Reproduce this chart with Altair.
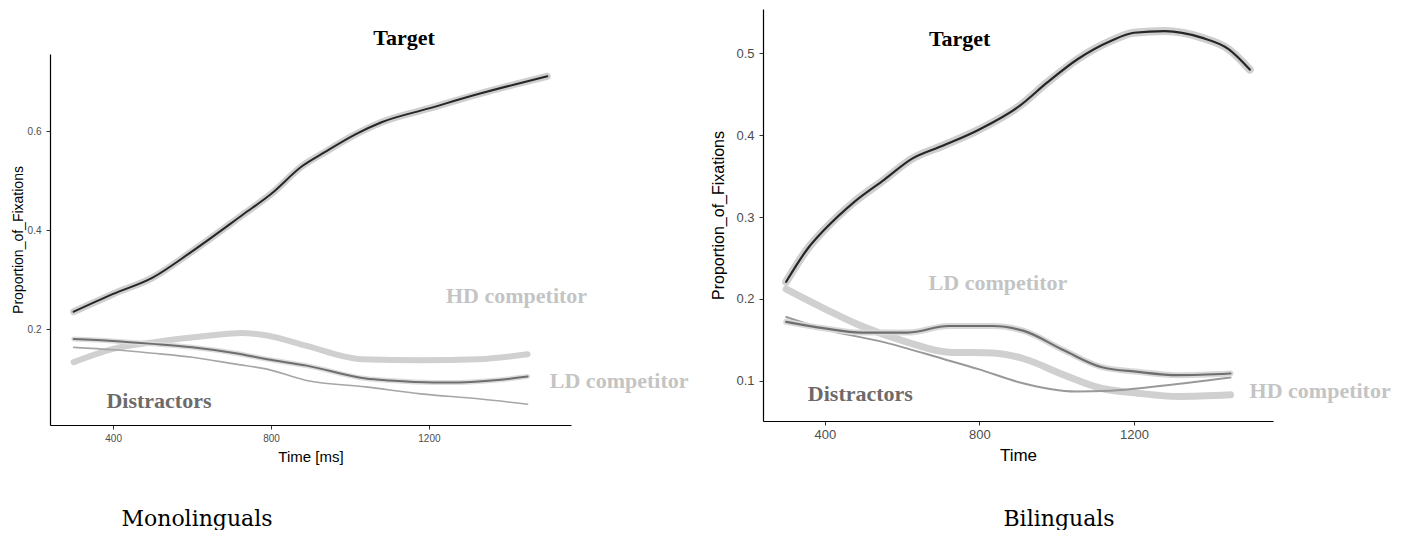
import altair as alt
import pandas as pd

# ---------------- Monolinguals (left panel) ----------------
mono_target_t = [300, 400, 500, 600, 730, 800, 880, 935, 1015, 1080, 1200, 1325, 1420, 1500]
mono_target_v = [0.235, 0.271, 0.304, 0.357, 0.432, 0.473, 0.530, 0.557, 0.594, 0.618, 0.646, 0.675, 0.695, 0.711]

mono_hd_t = [300, 400, 500, 645, 725, 790, 890, 1030, 1180, 1325, 1450]
mono_hd_v = [0.133, 0.160, 0.173, 0.187, 0.192, 0.187, 0.166, 0.139, 0.137, 0.139, 0.149]

mono_dis_t = [300, 400, 500, 600, 710, 790, 890, 1040, 1100, 1210, 1275, 1375, 1450]
mono_dis_v = [0.180, 0.176, 0.170, 0.163, 0.151, 0.139, 0.126, 0.100, 0.096, 0.092, 0.092, 0.097, 0.104]

mono_ld_t = [300, 400, 500, 600, 710, 790, 890, 1040, 1180, 1325, 1450]
mono_ld_v = [0.163, 0.158, 0.151, 0.143, 0.129, 0.119, 0.096, 0.083, 0.069, 0.059, 0.048]

mono_lab_text = ["Target", "HD competitor", "LD competitor", "Distractors"]
mono_lab_t = [1137, 1422, 1682, 516]
mono_lab_v = [0.788, 0.267, 0.095, 0.055]

# ---------------- Bilinguals (right panel) ----------------
bi_target_t = [300, 355, 400, 475, 555, 625, 705, 800, 905, 975, 1055, 1140, 1200, 1280, 1375, 1445, 1500]
bi_target_v = [0.221, 0.261, 0.285, 0.318, 0.346, 0.371, 0.387, 0.407, 0.436, 0.464, 0.493, 0.515, 0.525, 0.527, 0.519, 0.505, 0.480]

bi_dis_t = [300, 400, 495, 615, 720, 835, 915, 1020, 1115, 1210, 1315, 1450]
bi_dis_v = [0.172, 0.164, 0.159, 0.159, 0.167, 0.167, 0.161, 0.137, 0.117, 0.111, 0.107, 0.109]

bi_ld_t = [300, 400, 555, 705, 800, 905, 1050, 1140, 1255, 1450]
bi_ld_v = [0.178, 0.163, 0.147, 0.127, 0.114, 0.098, 0.087, 0.088, 0.093, 0.104]

bi_hd_t = [300, 400, 495, 615, 720, 835, 915, 1020, 1115, 1210, 1315, 1450]
bi_hd_v = [0.212, 0.188, 0.167, 0.147, 0.135, 0.134, 0.127, 0.107, 0.091, 0.085, 0.081, 0.083]

bi_lab_text = ["Target", "LD competitor", "Distractors", "HD competitor"]
bi_lab_t = [749, 848, 492, 1682]
bi_lab_v = [0.517, 0.2195, 0.084, 0.088]

lab_colors = {"Target": "#000000", "HD competitor": "#c4c4c4",
              "LD competitor": "#c4c4c4", "Distractors": "#6e6a6a"}

SANS = "Liberation Sans"
SERIF_B = "Liberation Serif"
CAP_FONT = "DejaVu Serif"


def long_df(series):
    rows = []
    for name, (ts, vs) in series.items():
        for t, v in zip(ts, vs):
            rows.append({"series": name, "time": t, "value": v})
    return pd.DataFrame(rows)


def make_panel(series, labels, ydom, yvals, xtitle, w, h, fs, caption, cap_xy, rule_spec, styles):
    df = long_df(series)
    lab_df = pd.DataFrame({"label": labels[0], "time": labels[1], "value": labels[2],
                           "col": [lab_colors[l] for l in labels[0]]})
    xs = alt.Scale(domain=[240, 1560], nice=False)
    ys = alt.Scale(domain=ydom, nice=False, zero=False)
    X = alt.X("time:Q", scale=xs, axis=alt.Axis(
        values=[400, 800, 1200], format="d", title=xtitle, grid=False, domainColor="#000000",
        domainWidth=1.2, tickColor="#333333", tickSize=4, labelColor="#4d4d4d",
        labelFont=SANS, labelFontSize=fs["xl"], labelPadding=fs["xlp"], titleFont=SANS,
        titleFontSize=fs["xt"], titleFontWeight="normal", titleColor="#000000",
        titlePadding=fs["xtp"]))
    Y = alt.Y("value:Q", scale=ys, axis=alt.Axis(
        values=yvals, format=".1f", title="Proportion_of_Fixations", grid=False,
        domainColor="#000000", domainWidth=1.2, tickColor="#333333", tickSize=4,
        labelColor="#4d4d4d", labelFont=SANS, labelFontSize=fs["yl"], labelPadding=fs["ylp"],
        titleFont=SANS, titleFontSize=fs["yt"], titleFontWeight="normal",
        titleColor="#000000", titlePadding=fs["ytp"]))

    base = alt.Chart(df)
    layers = []
    for name, color, width in styles:
        layers.append(base.transform_filter(alt.datum.series == name)
                      .mark_line(color=color, strokeWidth=width, interpolate="monotone",
                                 strokeCap="round")
                      .encode(x=X, y=Y))

    labels_layer = alt.Chart(lab_df).mark_text(
        font=SERIF_B, fontWeight="bold", fontSize=22, align="center", baseline="middle"
    ).encode(x=X, y=Y, text="label:N", color=alt.Color("col:N", scale=None))

    cap_layer = alt.Chart(pd.DataFrame({"c": [caption]})).mark_text(
        font=CAP_FONT, fontSize=22, align="center", baseline="middle", color="#000000"
    ).encode(text="c:N", x=alt.value(cap_xy[0]), y=alt.value(cap_xy[1]))

    rule_layer = alt.Chart(pd.DataFrame({"r": [0]})).mark_rule(
        color="#ffffff", strokeWidth=1
    ).encode(x=alt.value(rule_spec[0]), x2=alt.value(rule_spec[1]), y=alt.value(rule_spec[2]))

    return alt.layer(*layers, labels_layer, cap_layer, rule_layer).properties(width=w, height=h)


mono_series = {
    "HD": (mono_hd_t, mono_hd_v),
    "LD": (mono_ld_t, mono_ld_v),
    "DIS": (mono_dis_t, mono_dis_v),
    "TGT": (mono_target_t, mono_target_v),
}
bi_series = {
    "HD": (bi_hd_t, bi_hd_v),
    "LD": (bi_ld_t, bi_ld_v),
    "DIS": (bi_dis_t, bi_dis_v),
    "TGT": (bi_target_t, bi_target_v),
}

styles_mono = [("HD", "#d0d0d0", 6), ("LD", "#a6a6a6", 1.6),
               ("DIS", "#dcdcdc", 5), ("DIS", "#6e6e6e", 2),
               ("TGT", "#cfcfcf", 7), ("TGT", "#262626", 2)]
styles_bi = [("HD", "#d0d0d0", 7), ("LD", "#999999", 2),
             ("DIS", "#d8d8d8", 6), ("DIS", "#6e6e6e", 2.2),
             ("TGT", "#cfcfcf", 8), ("TGT", "#262626", 2.2)]

left = make_panel(
    mono_series, (mono_lab_text, mono_lab_t, mono_lab_v), [0.006, 0.756], [0.2, 0.4, 0.6],
    "Time [ms]", 521, 371,
    {"xl": 10, "xlp": 4, "xt": 15, "xtp": 6, "yl": 10, "ylp": 5, "yt": 14, "ytp": 2},
    "Monolinguals", (147, 465), (-41, 655, -43), styles_mono)

right = make_panel(
    bi_series, (bi_lab_text, bi_lab_t, bi_lab_v), [0.051, 0.554], [0.1, 0.2, 0.3, 0.4, 0.5],
    "Time", 510, 412,
    {"xl": 13, "xlp": 3, "xt": 17, "xtp": 6, "yl": 13, "ylp": 5, "yt": 16, "ytp": 9},
    "Bilinguals", (296, 510), (-54, -2, 0), styles_bi)

# tiny invisible spacer that lets the left panel sit lower than the right one
spacer = alt.Chart(pd.DataFrame({"r": [0]})).mark_rule(color="#ffffff", strokeWidth=1).encode(
    x=alt.value(0), x2=alt.value(1), y=alt.value(0)).properties(width=1, height=1)

left_col = alt.vconcat(spacer, left, spacing=0)

chart = alt.hconcat(left_col, right, spacing=2).properties(padding=0).configure_view(stroke=None)

chart.save("out.html", embed_options={"renderer": "svg", "actions": False})
